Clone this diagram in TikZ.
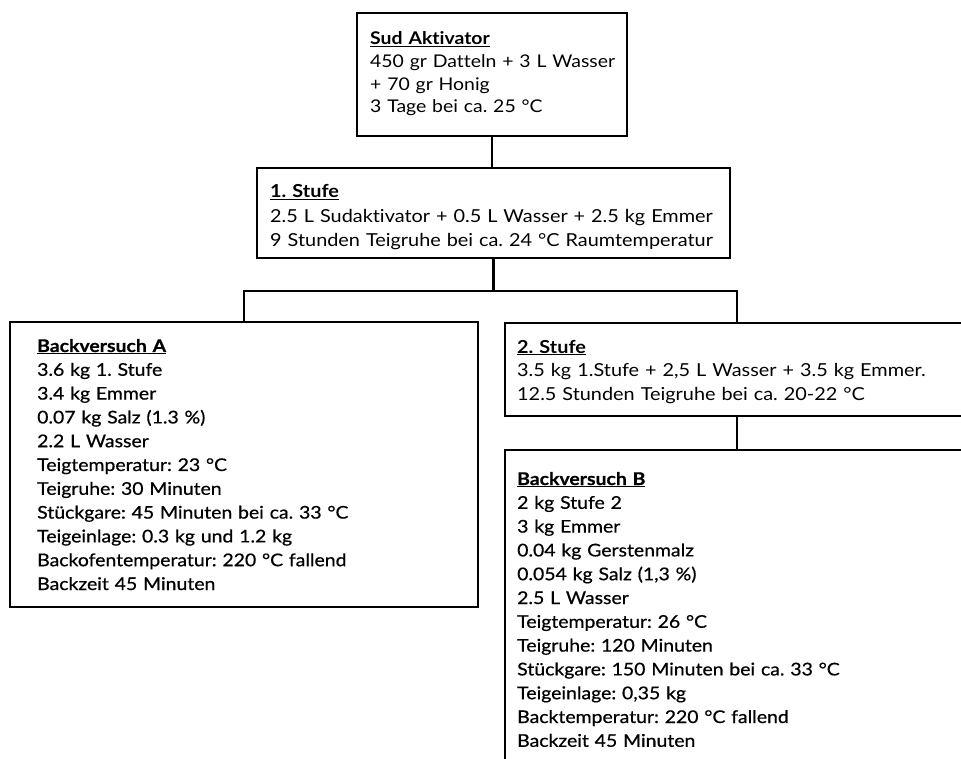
\documentclass[tikz,border=0pt]{standalone}
\usepackage{fontspec}
\setmainfont{Lato}[Ligatures=NoCommon, FakeStretch=1.11]
\newfontfamily\bodyfont{Lato}[Ligatures=NoCommon, FakeStretch=1.11, FakeBold=0.6]
\frenchspacing
\begin{document}
\begin{tikzpicture}[x=1pt,y=-1pt,
  box/.style={draw=black, line width=2.6pt, rectangle, inner sep=0pt},
  conn/.style={draw=black, line width=2.6pt},
  txt/.style={anchor=base west, inner sep=0pt, align=left, text width=480pt,
    font=\fontsize{17.5}{23.8}\selectfont}
]
\clip (0,0) rectangle (961,759);
\fill[white] (0,0) rectangle (961,759);

% boxes
\node[box, minimum width=270pt, minimum height=123pt] (sud) at (492,74.5) {};
\node[box, minimum width=473pt, minimum height=90pt] (st1) at (493.5,213) {};
\node[box, minimum width=468pt, minimum height=285pt] (A) at (244,464.5) {};
\node[box, minimum width=464pt, minimum height=93pt] (st2) at (737,369.5) {};
\node[box, minimum width=464pt, minimum height=340pt] (B) at (737,620) {};

% texts
\node[txt, font=\fontsize{17.5}{22.6}\selectfont] (sudT) at (370,45) {\underline{\textbf{Sud Aktivator}}\\
450 gr Datteln + 3 L Wasser\\
+ 70 gr Honig\\
3 Tage bei ca. 25 °C};

\node[txt, font=\fontsize{17.9}{24.5}\selectfont] (st1T) at (270,198) {\underline{\textbf{1. Stufe}}\\
2.5 L Sudaktivator + 0.5 L Wasser + 2.5 kg Emmer\\
9 Stunden Teigruhe bei ca. 24 °C Raumtemperatur};

\node[txt, font=\fontsize{17.5}{23.8}\selectfont\bodyfont] (AT) at (37,352) {\underline{\textbf{Backversuch A}}\\
3.6 kg 1. Stufe\\
3.4 kg Emmer\\
0.07 kg Salz (1.3 \%)\\
2.2 L Wasser\\
Teigtemperatur: 23 °C\\
Teigruhe: 30 Minuten\\
Stückgare: 45 Minuten bei ca. 33 °C\\
Teigeinlage: 0.3 kg und 1.2 kg\\
Backofentemperatur: 220 °C fallend\\
Backzeit 45 Minuten};

\node[txt, font=\fontsize{17.9}{23.5}\selectfont] (st2T) at (517,353) {\underline{\textbf{2. Stufe}}\\
3.5 kg 1.Stufe + 2,5 L Wasser + 3.5 kg Emmer.\\
12.5 Stunden Teigruhe bei ca. 20-22 °C};

\node[txt, font=\fontsize{17.5}{23.8}\selectfont\bodyfont] (BT) at (517,485) {\underline{\textbf{Backversuch B}}\\
2 kg Stufe 2\\
3 kg Emmer\\
0.04 kg Gerstenmalz\\
0.054 kg Salz (1,3 \%)\\
2.5 L Wasser\\
Teigtemperatur: 26 °C\\
Teigruhe: 120 Minuten\\
Stückgare: 150 Minuten bei ca. 33 °C\\
Teigeinlage: 0,35 kg\\
Backtemperatur: 220 °C fallend\\
Backzeit 45 Minuten};

% connectors
\coordinate (split) at (493.5,291);
\draw[conn] (sud.south) -- (sud.south |- st1.north);
\draw[conn] (st1.south) -- (split);
\draw[conn] (A.north) |- (split) -| (st2.north);
\draw[conn] (st2.south) -- (B.north);
\end{tikzpicture}
\end{document}
